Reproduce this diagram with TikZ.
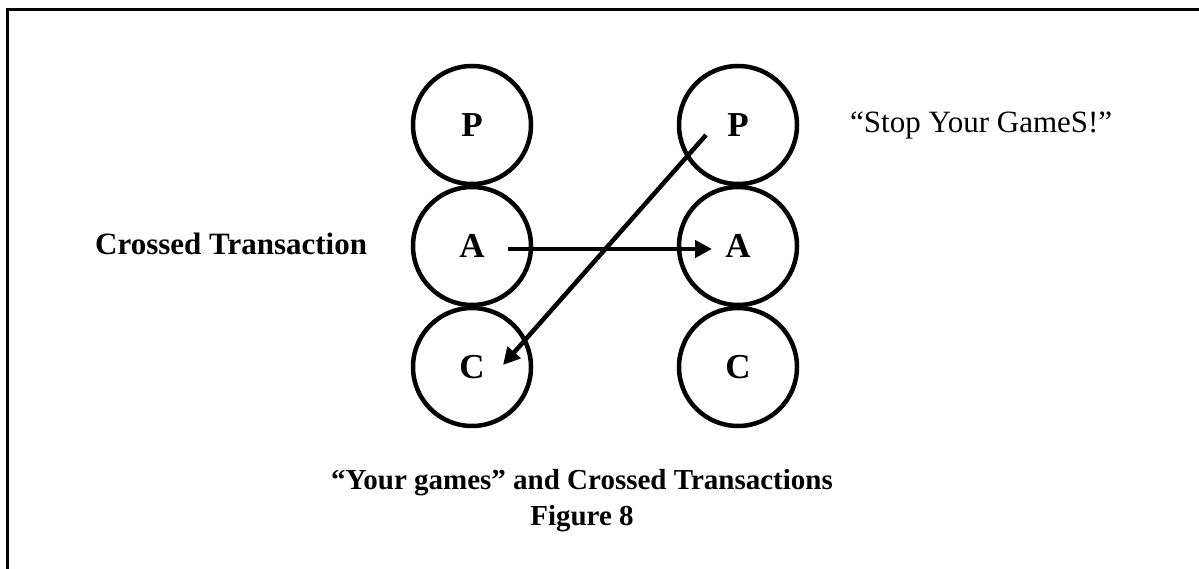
\documentclass[tikz,border=0pt]{standalone}
\usepackage{fontspec}
\setmainfont{Liberation Serif}
\usetikzlibrary{arrows.meta}
\begin{document}
\begin{tikzpicture}[x=1pt,y=-1pt,
  egostate/.style={circle,draw,line width=4.5pt,minimum size=118pt,inner sep=0pt,
    font=\fontsize{35}{40}\selectfont\bfseries},
  txt/.style={inner sep=0pt,font=\fontsize{31}{37}\selectfont},
  btxt/.style={inner sep=0pt,font=\fontsize{31}{37}\selectfont\bfseries},
  captxt/.style={inner sep=0pt,font=\fontsize{29}{35}\selectfont\bfseries},
  transarrow/.style={line width=4.5pt,-{Triangle[length=17pt,width=17pt]}},
  frameline/.style={line width=3pt}]
\useasboundingbox (0,0) rectangle (1199,569);
% frame
\coordinate (fr1) at (1199,10);
\coordinate (fr2) at (7,10);
\coordinate (fr3) at (7,569);
\draw[frameline] (fr1) -- (fr2) -- (fr3);
% ego states
\node[egostate] (P1) at (472,125) {P};
\node[egostate] (A1) at (472,246) {A};
\node[egostate] (C1) at (472,367) {C};
\node[egostate] (P2) at (738,125) {P};
\node[egostate] (A2) at (738,246) {A};
\node[egostate] (C2) at (738,367) {C};
% arrows
\coordinate (a1s) at ([xshift=36pt,yshift=-3pt]A1.center);
\coordinate (a2e) at ([xshift=-26pt,yshift=-3pt]A2.center);
\draw[transarrow] (a1s) -- (a2e);
\coordinate (p2s) at ([xshift=-32pt,yshift=-10pt]P2.center);
\coordinate (c1e) at ([xshift=31pt,yshift=2pt]C1.center);
\draw[transarrow] (p2s) -- (c1e);
% labels
\node[btxt,anchor=base west] (crossed) at (95,255) {Crossed Transaction};
\node[txt,anchor=base west] (stop) at (850,133) {“Stop Your GameS!”};
\node[captxt,anchor=base] (cap1) at (582,489) {“Your games” and Crossed Transactions};
\node[captxt,anchor=base] (cap2) at (582,525) {Figure 8};
\end{tikzpicture}
\end{document}
